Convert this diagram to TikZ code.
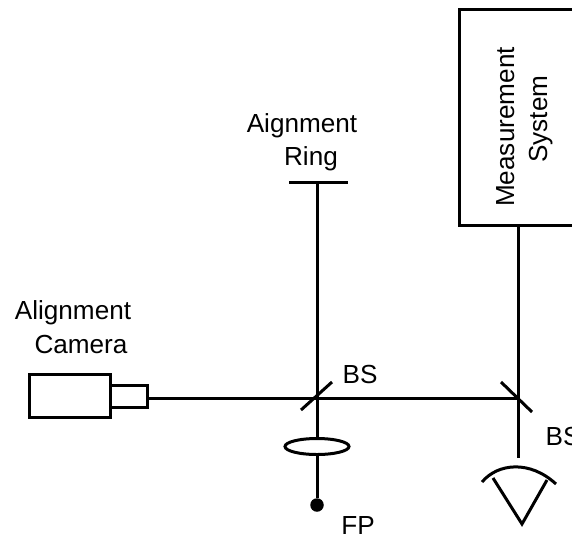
\documentclass[tikz,border=0pt]{standalone}
\usepackage{fontspec}
\usetikzlibrary{shapes.geometric}
\setmainfont{Liberation Sans}
\begin{document}
\begin{tikzpicture}[x=0.75pt,y=-0.75pt,
  optic/.style={draw=black,line width=2.25pt,fill=white,inner sep=0pt,outer sep=0pt},
  beam/.style={draw=black,line width=2.25pt},
  lbl/.style={inner sep=0pt,outer sep=0pt,font=\fontsize{19.6pt}{25pt}\selectfont,align=center}]
\useasboundingbox (0,0) rectangle (572,537);
\clip (0,0) rectangle (572,537);
% measurement system box (runs past the right edge)
\node[optic,minimum width=150*0.75pt,minimum height=216*0.75pt] (meas) at (534,117) {};
\node[lbl,rotate=90] (meastext) at (524.5,127) {Measurement\\\hspace*{12pt}System};
% alignment camera
\node[optic,minimum width=81*0.75pt,minimum height=43*0.75pt] (cambody) at (69.5,395.5) {};
\node[optic,minimum width=37*0.75pt,minimum height=22*0.75pt] (camlens) at (128.5,396) {};
% beam splitter centres and ends
\coordinate (bs1) at (317,398);
\coordinate (bs2) at (518,398);
\coordinate (ring) at (317,182);
\coordinate (ringL) at (289,182);
\coordinate (ringR) at (348,182);
\coordinate (bs1a) at (301,410);
\coordinate (bs1b) at (332,382);
\coordinate (bs2a) at (501,382);
\coordinate (bs2b) at (532,412);
\coordinate (eyeend) at (518,458);
% beams
\draw[beam] (ring) -- (bs1);
\draw[beam] (camlens.east |- bs1) -- (bs1) -- (bs2);
\draw[beam] (meas.south -| bs2) -- (bs2) -- (eyeend);
\node[circle,fill=black,inner sep=0pt,minimum size=13.5*0.75pt] (fp) at (317,505) {};
\draw[beam] (bs1) -- (fp);
\node[optic,ellipse,minimum width=64*0.75pt,minimum height=16*0.75pt] (lens) at (317,446.5) {};
% ring and beam splitters
\draw[beam] (ringL) -- (ringR);
\draw[beam] (bs1a) -- (bs1b);
\draw[beam] (bs2a) -- (bs2b);
% eye
\coordinate (eyeL) at (482,482);
\coordinate (eyeR) at (556,484);
\coordinate (vL) at (493,478);
\coordinate (vR) at (547,480);
\coordinate (vA) at (522,524);
\draw[beam] (eyeL) .. controls (498,463) and (530,460) .. (eyeR);
\draw[beam] (vL) -- (vA) -- (vR);
% labels
\node[lbl] (t1) at (302,142) {Aignment\\\hspace*{13.5pt}Ring};
\node[lbl] (t2) at (73,327) {Alignment\\\hspace*{12pt}Camera};
\node[lbl] (t3) at (360,374) {BS};
\node[lbl] (t4) at (563,436) {BS};
\node[lbl] (t5) at (358,526) {FP};
\end{tikzpicture}
\end{document}
